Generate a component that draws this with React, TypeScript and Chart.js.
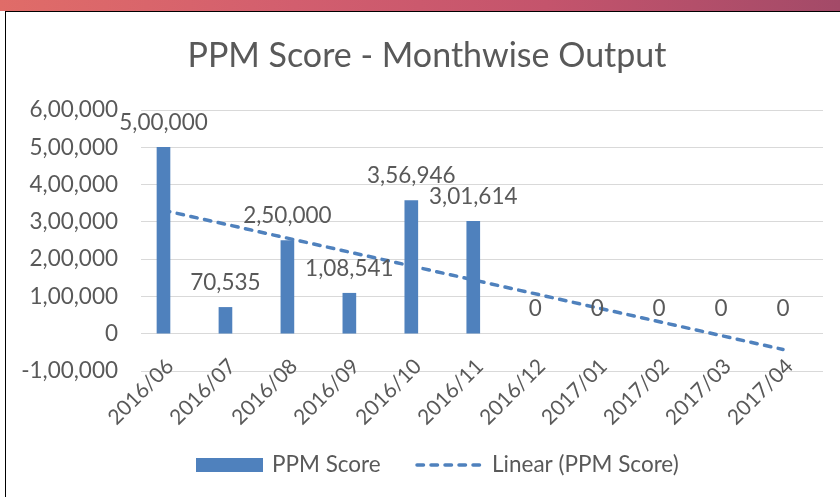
import { useEffect, useRef } from 'react';
import { Chart, registerables } from 'chart.js';

Chart.register(...registerables);

const categories = ['2016/06', '2016/07', '2016/08', '2016/09', '2016/10', '2016/11', '2016/12', '2017/01', '2017/02', '2017/03', '2017/04'];
const ppmScores = [500000, 70535, 250000, 108541, 356946, 301614, 0, 0, 0, 0, 0];
// linear trendline values read at the first and last month
const trendValues = [331000, -42300];
const yMin = -100000;
const yMax = 600000;
const yStep = 100000;

const titleText = 'PPM Score - Monthwise Output';
const legendLabels = ['PPM Score', 'Linear (PPM Score)'];

const BLUE = '#4F81BD';
const TEXT = '#595959';
const FONT = 'Lato';
const FS = 22.5;
const XFS = 21;

function fmtIN(v: number): string {
  const neg = v < 0;
  let s = Math.round(Math.abs(v)).toString();
  if (s.length > 3) {
    const last3 = s.slice(-3);
    let rest = s.slice(0, -3);
    const parts: string[] = [];
    while (rest.length > 2) {
      parts.unshift(rest.slice(-2));
      rest = rest.slice(0, -2);
    }
    if (rest) parts.unshift(rest);
    s = parts.join(',') + ',' + last3;
  }
  return (neg ? '-' : '') + s;
}

const labelsPlugin = {
  id: 'barValueLabels',
  afterDatasetsDraw(chart: any) {
    const ctx = chart.ctx;
    const meta = chart.getDatasetMeta(0);
    ctx.save();
    ctx.font = `${FS}px ${FONT}`;
    ctx.fillStyle = TEXT;
    ctx.textAlign = 'center';
    ctx.textBaseline = 'alphabetic';
    meta.data.forEach((el: any, i: number) => {
      const top = Math.min(el.y, el.base);
      ctx.fillText(fmtIN(ppmScores[i]), el.x, top - 17.5);
    });
    ctx.restore();
  },
};

// category labels of the x axis, rotated 45°, anchored just below the zero line
const xLabelsPlugin = {
  id: 'categoryLabels',
  afterDraw(chart: any) {
    const ctx = chart.ctx;
    const xs = chart.scales.x;
    const ys = chart.scales.y;
    const anchorY = ys.getPixelForValue(0) + 28.5;
    ctx.save();
    ctx.font = `${XFS}px ${FONT}`;
    ctx.fillStyle = TEXT;
    ctx.textAlign = 'right';
    ctx.textBaseline = 'alphabetic';
    categories.forEach((c, i) => {
      const x = xs.getPixelForValue(i) + 6;
      ctx.save();
      ctx.translate(x, anchorY);
      ctx.rotate(-Math.PI / 4);
      ctx.fillText(c, 0, 7.5);
      ctx.restore();
    });
    ctx.restore();
  },
};

const decorPlugin = {
  id: 'titleLegend',
  afterDraw(chart: any) {
    const ctx = chart.ctx;
    ctx.save();
    ctx.font = `34px ${FONT}`;
    ctx.fillStyle = TEXT;
    ctx.textAlign = 'center';
    ctx.textBaseline = 'alphabetic';
    ctx.fillText(titleText, 427, 67);

    ctx.font = `${FS}px ${FONT}`;
    ctx.textAlign = 'left';
    ctx.fillStyle = BLUE;
    ctx.fillRect(196, 458, 67, 14);
    ctx.fillStyle = TEXT;
    ctx.fillText(legendLabels[0], 272, 472);

    ctx.strokeStyle = BLUE;
    ctx.lineWidth = 3.5;
    ctx.lineCap = 'round';
    ctx.setLineDash([6.5, 7.5]);
    ctx.beginPath();
    ctx.moveTo(417, 465);
    ctx.lineTo(485, 465);
    ctx.stroke();
    ctx.setLineDash([]);
    ctx.fillText(legendLabels[1], 492, 472);
    ctx.restore();
  },
};

export default function App() {
  const canvasRef = useRef<HTMLCanvasElement | null>(null);

  useEffect(() => {
    document.body.style.margin = '0';
    const canvas = canvasRef.current;
    if (!canvas) return;
    const last = categories.length - 1;
    const chart = new Chart(canvas, {
      type: 'bar',
      data: {
        datasets: [
          {
            type: 'bar',
            label: legendLabels[0],
            data: ppmScores.map((v, i) => ({ x: i, y: v })),
            backgroundColor: (c: any) => (c.raw && c.raw.y === 0 ? 'rgba(0,0,0,0)' : BLUE),
            barThickness: 13,
            order: 0,
          } as any,
          {
            type: 'line',
            label: legendLabels[1],
            data: [
              { x: 0, y: trendValues[0] },
              { x: last, y: trendValues[1] },
            ],
            borderColor: BLUE,
            borderWidth: 3.5,
            borderDash: [6.5, 7.5],
            borderCapStyle: 'round',
            pointRadius: 0,
            fill: false,
            order: 1,
          } as any,
        ],
      },
      options: {
        responsive: false,
        animation: false,
        events: [],
        layout: { padding: { left: 0, right: 17, top: 110, bottom: 0 } },
        plugins: {
          legend: { display: false },
          title: { display: false },
          tooltip: { enabled: false },
        },
        scales: {
          x: {
            type: 'linear',
            min: -0.363,
            max: last + 0.645,
            offset: false,
            grid: { display: false },
            border: { display: false },
            ticks: { display: false, stepSize: 1 },
            afterFit: (s: any) => {
              s.height = 126;
            },
          } as any,
          y: {
            min: yMin,
            max: yMax,
            ticks: {
              stepSize: yStep,
              padding: 23,
              color: TEXT,
              font: { family: FONT, size: FS },
              callback: (v: any) => fmtIN(Number(v)),
            },
            grid: { color: '#d9d9d9', lineWidth: 1, drawTicks: false },
            border: { display: false },
            afterFit: (s: any) => {
              s.width = 141;
            },
          } as any,
        },
      } as any,
      plugins: [labelsPlugin, xLabelsPlugin, decorPlugin],
    });
    return () => chart.destroy();
  }, []);

  return (
    <div style={{ position: 'relative', width: 840, height: 497, background: '#fff', overflow: 'hidden' }}>
      <div
        style={{
          position: 'absolute',
          left: 0,
          top: 0,
          width: 840,
          height: 11,
          background: 'linear-gradient(to right, #e06c68, #d25e6e 35%, #c4546c 65%, #a34a68)',
        }}
      />
      <div
        style={{
          position: 'absolute',
          left: 5,
          top: 10.5,
          right: 0,
          bottom: 0,
          borderTop: '1.5px solid #000',
          borderLeft: '1.5px solid #000',
        }}
      />
      <canvas ref={canvasRef} width={840} height={497} style={{ position: 'absolute', left: 0, top: 0 }} />
    </div>
  );
}
